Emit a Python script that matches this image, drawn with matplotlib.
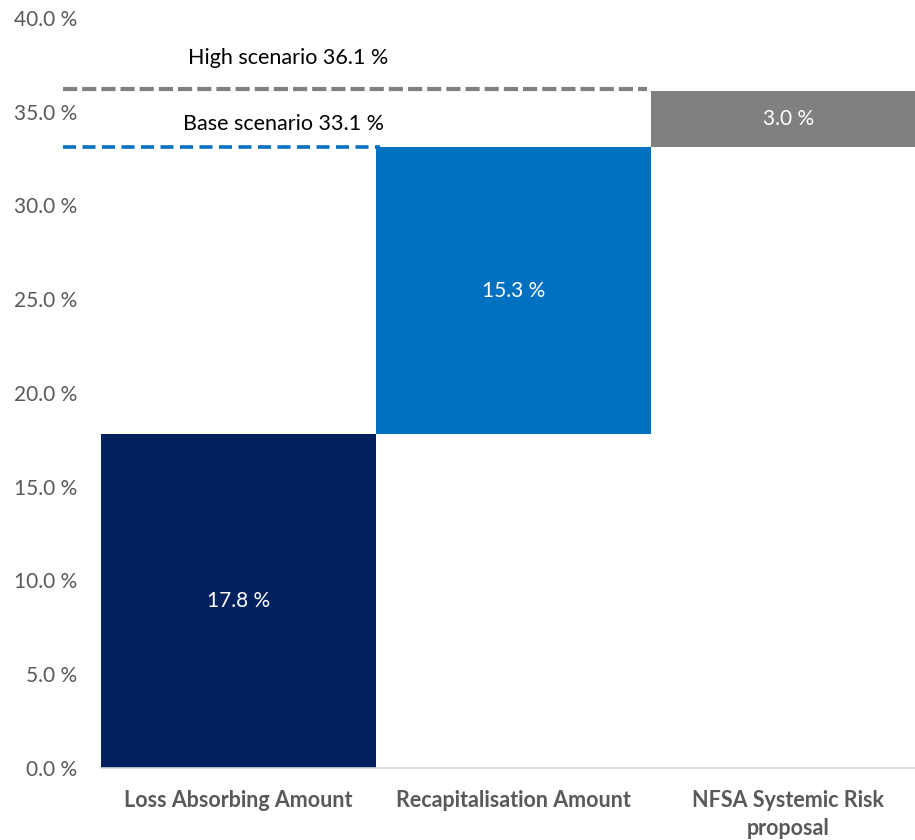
import matplotlib
matplotlib.use("Agg")
import matplotlib.pyplot as plt
import matplotlib.transforms as mtransforms

categories = ["Loss Absorbing Amount", "Recapitalisation Amount", "NFSA Systemic Risk\nproposal"]
increments = [17.8, 15.3, 3.0]
bar_colors = ["#002060", "#0070C0", "#808080"]
base_total = 33.1
high_total = 36.1
yticks = [0, 5, 10, 15, 20, 25, 30, 35, 40]

plt.rcParams["font.family"] = ["Lato", "DejaVu Sans"]

fig = plt.figure(figsize=(9.15, 8.4), dpi=100)
ax = fig.add_axes([101 / 915, 72 / 840, (926 - 101) / 915, 750 / 840])

# waterfall: each bar starts where the previous one ended
bottoms = []
acc = 0.0
for v in increments:
    bottoms.append(acc)
    acc += v
x = list(range(len(categories)))
ax.bar(x, increments, bottom=bottoms, width=1.0, color=bar_colors, linewidth=0)

for xi, b, v in zip(x, bottoms, increments):
    ax.text(xi, b + v / 2, f"{v:.1f} %", ha="center", va="center",
            color="white", fontsize=15)

ax.set_xlim(-0.5, 2.5)
ax.set_ylim(0, 40)
ax.set_yticks(yticks)
ax.set_yticklabels([f"{t:.1f} %" for t in yticks])
ax.set_xticks(x)
ax.set_xticklabels(categories, fontweight="bold", fontsize=15.5, color="#595959",
                   linespacing=1.4)
ax.tick_params(axis="y", length=0, pad=17, labelsize=15, labelcolor="#595959")
ax.tick_params(axis="x", length=0, pad=16)
for side in ["left", "right", "top"]:
    ax.spines[side].set_visible(False)
ax.spines["bottom"].set_color("#d9d9d9")
ax.spines["bottom"].set_linewidth(1.2)

# scenario reference lines
up = mtransforms.offset_copy(ax.transData, fig=fig, x=0, y=2.5, units="dots")
ax.plot([-0.64, 1.485], [high_total, high_total], color="#808080", lw=3,
        dashes=(3.4, 1.2), clip_on=False, transform=up)
ax.plot([-0.64, 0.515], [base_total, base_total], color="#0070C0", lw=2.6,
        dashes=(3.6, 1.8), clip_on=False)
ax.text(0.18, 37.87, f"High scenario {high_total:.1f} %", ha="center", va="center",
        fontsize=15.5, color="black")
ax.text(0.165, 34.35, f"Base scenario {base_total:.1f} %", ha="center", va="center",
        fontsize=15.5, color="black")

fig.savefig("out.png", dpi=100)
